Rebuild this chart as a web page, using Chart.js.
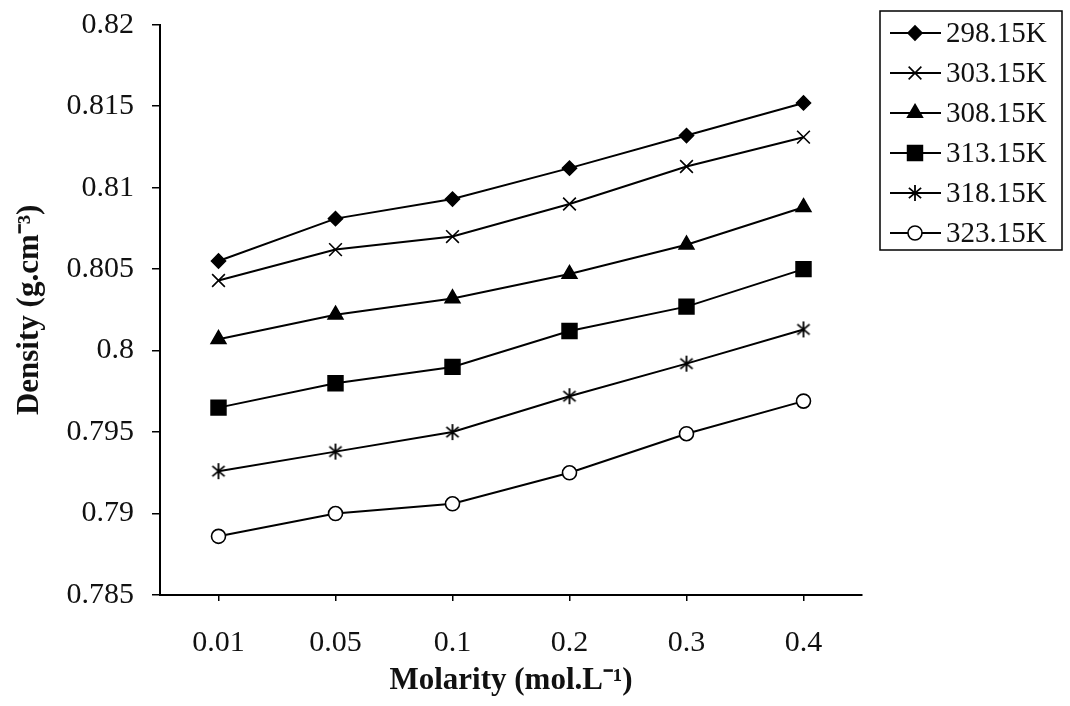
<!DOCTYPE html>
<html>
<head>
<meta charset="utf-8">
<script src="https://cdn.jsdelivr.net/npm/chart.js@4.4.0/dist/chart.umd.min.js"></script>
<style>
html,body{margin:0;padding:0;background:#fff;}
</style>
</head>
<body>
<canvas id="graficoDensidade" width="1070" height="706"></canvas>
<script>

/* =============================
DADOS
============================= */

const molaridade=["0.01","0.05","0.1","0.2","0.3","0.4"];

const temperaturas=["298.15K","303.15K","308.15K","313.15K","318.15K","323.15K"];

const d298=[0.8055,0.8081,0.8093,0.8112,0.8132,0.8152];
const d303=[0.8043,0.8062,0.8070,0.8090,0.8113,0.8131];
const d308=[0.8007,0.8022,0.8032,0.8047,0.8065,0.8088];
const d313=[0.7965,0.7980,0.7990,0.8012,0.8027,0.8050];
const d318=[0.7926,0.7938,0.7950,0.7972,0.7992,0.8013];
const d323=[0.7886,0.7900,0.7906,0.7925,0.7949,0.7969];

const fonte="'Liberation Serif','Times New Roman',serif";

/* =============================
MARCADOR ESTRELA (x + barra)
============================= */

function marcadorEstrela(r){

const c=document.createElement("canvas");
const m=r+2;
c.width=c.height=2*m;
const g=c.getContext("2d");

g.strokeStyle="#000";
g.lineWidth=1.8;
g.beginPath();
g.moveTo(m,m-r);g.lineTo(m,m+r);
[40,140].forEach(a=>{
const rad=a*Math.PI/180;
g.moveTo(m-Math.cos(rad)*r,m-Math.sin(rad)*r);
g.lineTo(m+Math.cos(rad)*r,m+Math.sin(rad)*r);
});
g.stroke();

return c;

}

/* =============================
SERIES
============================= */

const estilos=[
{pointStyle:"rectRot",pointRadius:7,fill:"#000"},
{pointStyle:"crossRot",pointRadius:9,fill:"#000"},
{pointStyle:"triangle",pointRadius:8.5,fill:"#000"},
{pointStyle:"rect",pointRadius:10.5,fill:"#000"},
{pointStyle:marcadorEstrela(8),pointRadius:8,fill:"#000"},
{pointStyle:"circle",pointRadius:7,fill:"#fff"}
];

const valores=[d298,d303,d308,d313,d318,d323];

const datasets=valores.map((v,i)=>({
label:temperaturas[i],
data:v,
borderColor:"#000",
borderWidth:2,
tension:0,
pointStyle:estilos[i].pointStyle,
pointRadius:estilos[i].pointRadius,
pointHoverRadius:estilos[i].pointRadius,
pointBackgroundColor:estilos[i].fill,
pointBorderColor:"#000",
pointBorderWidth:1.6
}));

/* =============================
PLUGINS
============================= */

const fundoBranco={
id:"fundoBranco",
beforeDraw(chart){
const ctx=chart.ctx;
ctx.save();
ctx.fillStyle="#fff";
ctx.fillRect(0,0,chart.width,chart.height);
ctx.restore();
}
};

const legendaCaixa={
id:"legendaCaixa",
afterDraw(chart){

const ctx=chart.ctx;
const x0=880,y0=11,w=182,h=239;

ctx.save();
ctx.fillStyle="#fff";
ctx.fillRect(x0,y0,w,h);
ctx.strokeStyle="#000";
ctx.lineWidth=1.5;
ctx.strokeRect(x0,y0,w,h);

chart.data.datasets.forEach((ds,i)=>{

const y=y0+22+i*40;

ctx.strokeStyle="#000";
ctx.lineWidth=2;
ctx.beginPath();
ctx.moveTo(890,y);
ctx.lineTo(941,y);
ctx.stroke();

ctx.fillStyle=ds.pointBackgroundColor;
ctx.lineWidth=ds.pointBorderWidth;
Chart.helpers.drawPoint(ctx,{
pointStyle:ds.pointStyle,
radius:ds.pointRadius,
borderWidth:ds.pointBorderWidth,
rotation:0
},915,y);

ctx.fillStyle="#111";
ctx.font="29px "+fonte;
ctx.textAlign="left";
ctx.textBaseline="middle";
ctx.fillText(ds.label,946,y+1);

});

ctx.restore();

}
};

/* =============================
GRAFICO
============================= */

new Chart(document.getElementById("graficoDensidade"),{
type:"line",
data:{
labels:molaridade,
datasets:datasets
},
options:{
responsive:false,
animation:false,
layout:{padding:{top:0,right:208,bottom:0,left:0}},
plugins:{
legend:{display:false},
tooltip:{enabled:false}
},
scales:{
x:{
offset:true,
grid:{drawOnChartArea:false,tickLength:6,color:"#000",lineWidth:1.5},
border:{color:"#000",width:2},
ticks:{color:"#111",font:{family:fonte,size:30},padding:24},
title:{
display:true,
text:"Molarity (mol.L⁻¹)",
color:"#111",
font:{family:fonte,size:31,weight:"bold"},
padding:{top:0,bottom:6}
},
afterFit(s){s.height=111;}
},
y:{
min:0.785,
max:0.82,
grid:{drawOnChartArea:false,tickLength:8,color:"#000",lineWidth:1.5},
border:{color:"#000",width:2},
ticks:{
stepSize:0.005,
color:"#111",
font:{family:fonte,size:30,lineHeight:0.45},
padding:18,
callback:v=>String(Number(v.toFixed(3)))
},
title:{
display:true,
text:"Density (g.cm⁻³)",
color:"#111",
font:{family:fonte,size:31,weight:"bold"},
padding:{top:11,bottom:0}
},
afterFit(s){s.width=160;}
}
}
},
plugins:[fundoBranco,legendaCaixa]
});

</script>
</body>
</html>
